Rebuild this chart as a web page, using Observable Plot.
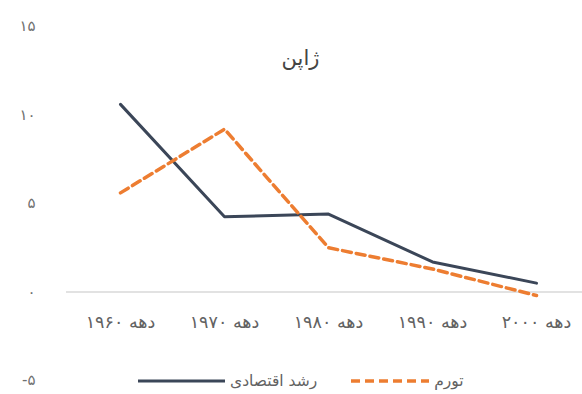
<!DOCTYPE html>
<html>
<head>
<meta charset="utf-8">
<script src="https://cdn.jsdelivr.net/npm/d3@7"></script>
<script src="https://cdn.jsdelivr.net/npm/@observablehq/plot@0.6"></script>
<style>
  html, body { margin: 0; padding: 0; background: #fff; }
  #wrap { position: relative; width: 582px; height: 394px; overflow: hidden; font-family: "DejaVu Sans", sans-serif; }
  #legend { position: absolute; left: 138px; top: 371px; height: 20px; display: flex; align-items: center; direction: ltr; font-size: 15.5px; color: #626262; }
  #legend span { white-space: nowrap; }
</style>
</head>
<body>
<div id="wrap"></div>
<script>
const title = "ژاپن";
const categories = ["1960", "1970", "1980", "1990", "2000"];
const xLabels = ["دهه ۱۹۶۰", "دهه ۱۹۷۰", "دهه ۱۹۸۰", "دهه ۱۹۹۰", "دهه ۲۰۰۰"];
const growth = [10.6, 4.25, 4.4, 1.7, 0.5];
const inflation = [5.6, 9.2, 2.5, 1.3, -0.2];
const yTicks = [-5, 0, 5, 10, 15];
const yTickLabels = ["-۵", "۰", "۵", "۱۰", "۱۵"];
const seriesNames = ["رشد اقتصادی", "تورم"];
const seriesColors = ["#3b4658", "#ED7D31"];

const growthData = categories.map((c, i) => ({x: c, y: growth[i]}));
const inflationData = categories.map((c, i) => ({x: c, y: inflation[i]}));

const chart = Plot.plot({
  width: 582,
  height: 394,
  marginTop: 26,
  marginBottom: 14,
  marginLeft: 66,
  marginRight: 0,
  style: {fontFamily: "DejaVu Sans", background: "transparent", overflow: "hidden"},
  x: {type: "point", domain: categories, padding: 0, insetLeft: 53, insetRight: 45, axis: null},
  y: {domain: [-5, 15], axis: null},
  marks: [
    Plot.axisY({ticks: yTicks, tickSize: 0, tickPadding: 31, fontSize: 15, color: "#707070", label: null,
      tickFormat: d => yTickLabels[yTicks.indexOf(d)]}),
    Plot.ruleY([0], {stroke: "#d9d9d9", strokeWidth: 1.3}),
    Plot.line(growthData, {x: "x", y: "y", stroke: seriesColors[0], strokeWidth: 3}),
    Plot.line(inflationData, {x: "x", y: "y", stroke: seriesColors[1], strokeWidth: 3.5, strokeDasharray: "9,5"}),
    Plot.text(categories, {x: d => d, text: (d, i) => xLabels[i], frameAnchor: "bottom", dy: -53, fontSize: 17.5, fill: "#626262"}),
    Plot.text([title], {frameAnchor: "top", dy: 24, dx: -24, fontSize: 21, fill: "#444"})
  ]
});

const wrap = document.getElementById("wrap");
wrap.appendChild(chart);

const legend = document.createElement("div");
legend.id = "legend";
legend.innerHTML =
  `<svg width="87" height="8"><line x1="0" x2="87" y1="4" y2="4" stroke="${seriesColors[0]}" stroke-width="3"/></svg>` +
  `<span dir="rtl" style="margin-left:5px">${seriesNames[0]}</span>` +
  `<svg width="78" height="8" style="margin-left:34px"><line x1="0" x2="78" y1="4" y2="4" stroke="${seriesColors[1]}" stroke-width="3.5" stroke-dasharray="9,5"/></svg>` +
  `<span dir="rtl" style="margin-left:5px">${seriesNames[1]}</span>`;
wrap.appendChild(legend);
</script>
</body>
</html>
